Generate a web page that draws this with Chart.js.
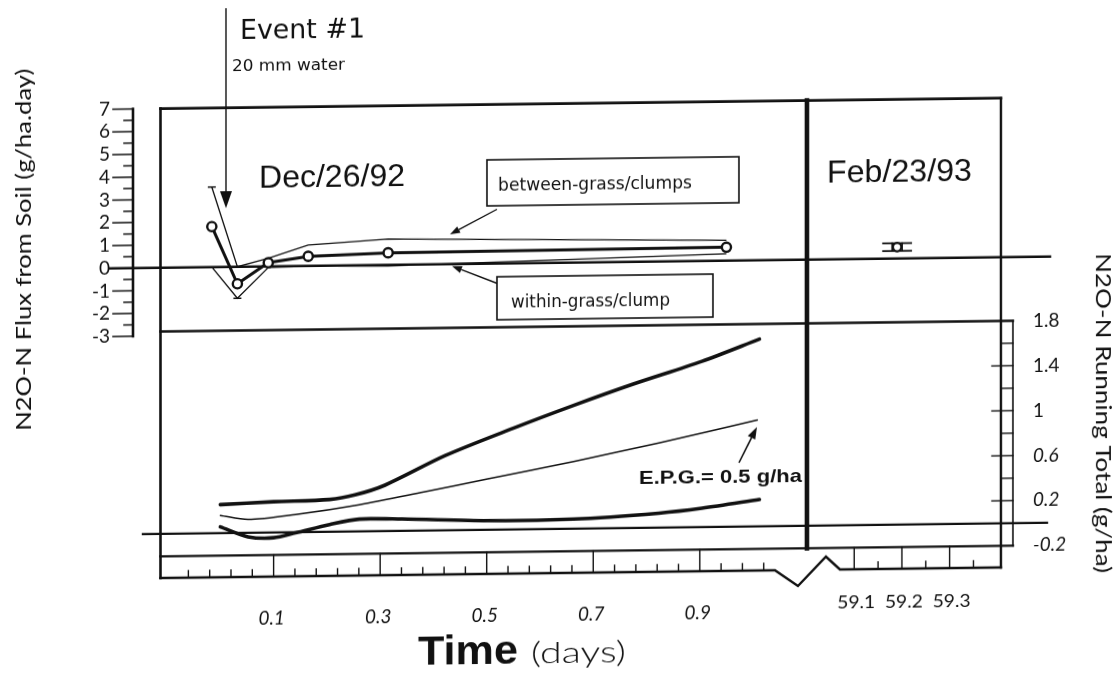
<!DOCTYPE html>
<html>
<head>
<meta charset="utf-8">
<script src="https://cdn.jsdelivr.net/npm/chart.js@4.4.1/dist/chart.umd.min.js"></script>
<style>
  html, body { margin: 0; padding: 0; background: #fff; overflow: hidden; }
  #sheet { width: 1119px; height: 688px; transform: skewY(-0.72deg); transform-origin: 559.5px 344px; }
  canvas { display: block; }
</style>
</head>
<body>
<div id="sheet"><canvas id="chart" width="1119" height="688"></canvas></div>
<script>
// N2O-N flux from soil after a 20 mm watering (Dec/26/92), with a later check (Feb/23/93),
// and the running total of emitted N2O-N over the first day.

// --- flux panel (g/ha.day) ---
const decTimes    = [-0.016, 0.032, 0.090, 0.165, 0.315, 0.950];
const meanFlux    = [1.78, -0.75, 0.16, 0.42, 0.53, 0.59];
const betweenFlux = [3.52, 0.00, 0.35, 0.92, 1.14, 0.89];
const withinFlux  = [0.00, -1.39, -0.05, -0.02, -0.05, 0.30];

const febTimes   = [59.19];
const febFlux    = [0.50];
const febFluxErr = [0.17];

// --- running total panel (g/ha) ---
const upperTimes = [0.000, 0.100, 0.205, 0.253, 0.309, 0.422, 0.550, 0.663, 0.775, 0.904, 1.012];
const upperTotal = [0.253, 0.273, 0.287, 0.325, 0.408, 0.664, 0.900, 1.096, 1.279, 1.474, 1.665];
const epgTimes   = [0.000, 0.052, 0.141, 0.261, 0.382, 0.502, 0.663, 0.823, 1.008];
const epgTotal   = [0.157, 0.118, 0.157, 0.237, 0.343, 0.452, 0.597, 0.753, 0.945];
const lowerTimes = [0.000, 0.052, 0.100, 0.141, 0.205, 0.261, 0.341, 0.502, 0.663, 0.823, 0.904, 1.012];
const lowerTotal = [0.055, -0.036, -0.047, -0.006, 0.064, 0.109, 0.105, 0.081, 0.085, 0.128, 0.167, 0.239];

// --- tick labels ---
const fluxTicks     = [7, 6, 5, 4, 3, 2, 1, 0, -1, -2, -3];
const totalTicks    = [1.8, 1.4, 1, 0.6, 0.2, -0.2];
const decTickLabels = [0.1, 0.3, 0.5, 0.7, 0.9];
const febTickLabels = [59.1, 59.2, 59.3];

const W = 1119, H = 688;
const INK = '#111';
const NUM_FONT = 'Lato, "Noto Sans", sans-serif';
const HAND_FONT = '"DejaVu Sans", sans-serif';
const HELV = '"Liberation Sans", Arial, sans-serif';

// Scale limits chosen so that an anchor value lands on a given pixel with a given density.
function axisRange(anchorValue, anchorPx, pxPerUnit, size, inverted) {
  if (inverted) {
    const max = anchorValue + anchorPx / pxPerUnit;
    return { min: max - size / pxPerUnit, max };
  }
  const min = anchorValue - anchorPx / pxPerUnit;
  return { min, max: min + size / pxPerUnit };
}

const pts = (xs, ys) => xs.map((x, i) => ({ x, y: ys[i] }));

function strokePath(ctx, points, width) {
  ctx.beginPath();
  ctx.moveTo(points[0][0], points[0][1]);
  for (let i = 1; i < points.length; i++) ctx.lineTo(points[i][0], points[i][1]);
  ctx.lineWidth = width;
  ctx.stroke();
}

function drawText(ctx, str, x, y, o) {
  ctx.save();
  ctx.translate(x, y);
  if (o.rotate) ctx.rotate(o.rotate);
  ctx.font = o.font;
  ctx.fillStyle = INK;
  ctx.textBaseline = o.baseline || 'alphabetic';
  ctx.textAlign = o.align || 'left';
  if (o.width) {
    const w = ctx.measureText(str).width;
    ctx.scale(o.width / w, 1);
  }
  ctx.fillText(str, 0, 0);
  ctx.restore();
}

function arrow(ctx, x1, y1, x2, y2, headLen, headHalf, lw) {
  const a = Math.atan2(y2 - y1, x2 - x1);
  const bx = x2 - Math.cos(a) * headLen, by = y2 - Math.sin(a) * headLen;
  strokePath(ctx, [[x1, y1], [bx, by]], lw);
  ctx.beginPath();
  ctx.moveTo(x2, y2);
  ctx.lineTo(bx + Math.sin(a) * headHalf, by - Math.cos(a) * headHalf);
  ctx.lineTo(bx - Math.sin(a) * headHalf, by + Math.cos(a) * headHalf);
  ctx.closePath();
  ctx.fill();
}

const fmt = v => String(v);

const paperFrame = {
  id: 'paperFrame',
  beforeDatasetsDraw(chart) {
    const { ctx, scales: s } = chart;
    const X = v => s.x.getPixelForValue(v);
    const XF = v => s.xFeb.getPixelForValue(v);
    const YF = v => s.yFlux.getPixelForValue(v);
    const YT = v => s.yTotal.getPixelForValue(v);

    const left = 160.5, right = 1001, divider = 807, column = 1013;
    const top = YF(7), sep = YT(1.8), bottom = YT(-0.2), stripBottom = 573;

    ctx.save();
    ctx.strokeStyle = INK;
    ctx.fillStyle = INK;
    ctx.lineCap = 'square';

    // outer frame and panel rules
    strokePath(ctx, [[left, top], [right, top]], 2.6);
    strokePath(ctx, [[left, top], [left, stripBottom]], 2.6);
    strokePath(ctx, [[right, top], [right, stripBottom]], 2.4);
    strokePath(ctx, [[left, sep], [column, sep]], 2.4);
    strokePath(ctx, [[left, bottom], [column, bottom]], 2.4);
    strokePath(ctx, [[column, sep], [column, bottom]], 1.6);
    strokePath(ctx, [[divider, top], [divider, bottom]], 4.6);

    // time strip with broken-axis mark
    ctx.lineJoin = 'miter';
    strokePath(ctx, [[left, stripBottom], [775, stripBottom], [798, 589], [826, 560], [840, stripBottom], [right, stripBottom]], 2.4);

    // zero lines
    strokePath(ctx, [[110, YF(0)], [1050, YF(0)]], 2.6);
    strokePath(ctx, [[143, YT(0)], [1047, YT(0)]], 2.4);

    // flux axis with ticks
    strokePath(ctx, [[133, YF(7)], [133, YF(-3)]], 2.6);
    for (let k = 0; k <= 20; k++) {
      const v = -3 + k * 0.5;
      const major = Number.isInteger(v);
      strokePath(ctx, [[major ? 113 : 124, YF(v)], [133, YF(v)]], 1.5);
    }

    // running-total ruler
    for (let k = 1; k < 10; k++) {
      const v = -0.2 + k * 0.2;
      if (Math.abs(v) < 1e-9) continue;
      const r = Math.round((v - 0.2) / 0.4 * 1000) / 1000;
      const major = Number.isInteger(r) && v > 0.1 && v < 1.5;
      strokePath(ctx, [[major ? 992 : right, YT(v)], [column, YT(v)]], 1.4);
    }

    // time ticks, first day
    for (let k = 1; k <= 28; k++) {
      const t = -0.1 + k * 0.04;
      const q = (t - 0.1) / 0.2;
      const major = Math.abs(q - Math.round(q)) < 1e-6;
      strokePath(ctx, [[X(t), major ? bottom : stripBottom - 7], [X(t), stripBottom]], 1.4);
    }
    // time ticks, day 59
    for (let k = 0; k < 6; k++) {
      const t = 59.1 + k * 0.05;
      const major = k % 2 === 0;
      strokePath(ctx, [[XF(t), major ? bottom : stripBottom - 7], [XF(t), stripBottom]], 1.4);
    }

    // error caps on the Feb reading
    febTimes.forEach((t, i) => {
      const cx = XF(t);
      const hi = YF(febFlux[i] + febFluxErr[i]), lo = YF(febFlux[i] - febFluxErr[i]);
      strokePath(ctx, [[cx - 14, hi], [cx + 14, hi]], 1.8);
      strokePath(ctx, [[cx - 14, lo], [cx + 14, lo]], 1.8);
      strokePath(ctx, [[cx - 5, hi], [cx - 5, lo]], 1.6);
      strokePath(ctx, [[cx + 5, hi], [cx + 5, lo]], 1.6);
    });
    ctx.restore();
  },

  afterDatasetsDraw(chart) {
    const { ctx, scales: s } = chart;
    const X = v => s.x.getPixelForValue(v);
    const XF = v => s.xFeb.getPixelForValue(v);
    const YF = v => s.yFlux.getPixelForValue(v);
    const YT = v => s.yTotal.getPixelForValue(v);
    ctx.save();
    ctx.strokeStyle = INK;
    ctx.fillStyle = INK;

    // axis numbers
    fluxTicks.forEach(v => drawText(ctx, fmt(v), 110, YF(v), { font: `19px ${NUM_FONT}`, align: 'right', baseline: 'middle' }));
    totalTicks.forEach(v => {
      const italic = v < 1 ? 'italic ' : '';
      drawText(ctx, fmt(v), 1033, YT(v), { font: `${italic}19px ${NUM_FONT}`, baseline: 'middle' });
    });
    decTickLabels.forEach(v => drawText(ctx, fmt(v), X(v) - 2, 615, { font: `italic 19px ${NUM_FONT}`, align: 'center', baseline: 'middle' }));
    febTickLabels.forEach(v => drawText(ctx, fmt(v), XF(v) + 2, 606, { font: `18px ${NUM_FONT}`, align: 'center', baseline: 'middle', width: 38 }));

    // axis titles
    drawText(ctx, 'N2O-N Flux from Soil (g/ha.day)', 24, 243, { font: `21px ${NUM_FONT}`, align: 'center', baseline: 'middle', rotate: -Math.PI / 2, width: 362 });
    drawText(ctx, 'N2O-N Running Total (g/ha)', 1103, 420, { font: `21px ${NUM_FONT}`, align: 'center', baseline: 'middle', rotate: Math.PI / 2, width: 320 });
    drawText(ctx, 'Time', 418, 663, { font: `bold 40px ${HELV}`, width: 100 });
    drawText(ctx, '(days)', 531, 663, { font: `300 30px ${NUM_FONT}`, width: 95 });

    // panel dates
    drawText(ctx, 'Dec/26/92', 259, 183.5, { font: `32px ${HELV}`, width: 146 });
    drawText(ctx, 'Feb/23/93', 827, 186, { font: `32px ${HELV}`, width: 145 });

    // watering event
    arrow(ctx, 226, 4, 226, 204, 17, 6, 1.4);
    drawText(ctx, 'Event #1', 240, 34.5, { font: `27px ${HAND_FONT}`, width: 125 });
    drawText(ctx, '20 mm water', 232, 67, { font: `16px ${HAND_FONT}`, width: 113 });

    // series call-outs
    ctx.lineWidth = 1.6;
    ctx.strokeRect(487, 159, 252, 46);
    drawText(ctx, 'between-grass/clumps', 498, 190, { font: `17px ${HAND_FONT}`, width: 194 });
    arrow(ctx, 497, 208.5, 450, 233, 10, 3.6, 1.4);

    ctx.lineWidth = 1.6;
    ctx.strokeRect(497, 276, 216, 43);
    drawText(ctx, 'within-grass/clump', 511, 306.5, { font: `17px ${HAND_FONT}`, width: 159 });
    arrow(ctx, 497, 282.5, 452, 264.7, 10, 3.6, 1.4);

    drawText(ctx, 'E.P.G.= 0.5 g/ha', 639, 485.3, { font: `bold 19px ${HELV}`, width: 163 });
    arrow(ctx, 739, 465, 757, 429.5, 12, 4.2, 1.6);

    ctx.restore();
  }
};

const xr = axisRange(0, 216.05, 539.5, W, false);
const xfr = axisRange(59.0, 809.7, 483, W, false);
const yfr = axisRange(0, 261, 23.2, H, true);
const ytr = axisRange(0, 532.7, 114.8, H, true);

const fluxLine = (data, width, extra) => Object.assign({
  data, xAxisID: 'x', yAxisID: 'yFlux', borderColor: INK, borderWidth: width,
  pointRadius: 0, tension: 0, fill: false
}, extra || {});

const totalLine = (data, width) => ({
  data, xAxisID: 'x', yAxisID: 'yTotal', borderColor: INK, borderWidth: width,
  pointRadius: 0, tension: 0.3, fill: false, borderCapStyle: 'round'
});

new Chart(document.getElementById('chart'), {
  type: 'line',
  data: {
    datasets: [
      fluxLine(pts(decTimes, meanFlux), 3, {
        pointRadius: 4.6, pointBorderWidth: 2.4, pointBackgroundColor: '#fff', pointBorderColor: INK
      }),
      {
        data: pts(febTimes, febFlux), xAxisID: 'xFeb', yAxisID: 'yFlux', showLine: false,
        pointRadius: 4.2, pointBorderWidth: 2.2, pointBackgroundColor: '#fff', pointBorderColor: INK
      },
      fluxLine(pts(decTimes, betweenFlux), 1.3, {
        pointStyle: 'line', pointRadius: [4, 0, 0, 0, 0, 0], pointBorderWidth: 1.5, pointBorderColor: INK
      }),
      fluxLine(pts(decTimes, withinFlux), 1.3, {
        pointStyle: 'line', pointRadius: [0, 4, 0, 0, 0, 0], pointBorderWidth: 1.5, pointBorderColor: INK
      }),
      totalLine(pts(upperTimes, upperTotal), 3.6),
      totalLine(pts(epgTimes, epgTotal), 1.5),
      totalLine(pts(lowerTimes, lowerTotal), 3.6)
    ]
  },
  options: {
    responsive: false,
    animation: false,
    events: [],
    layout: { padding: 0 },
    plugins: { legend: { display: false }, tooltip: { enabled: false }, title: { display: false } },
    scales: {
      x:      { type: 'linear', display: false, min: xr.min,  max: xr.max },
      xFeb:   { type: 'linear', display: false, min: xfr.min, max: xfr.max },
      yFlux:  { type: 'linear', display: false, min: yfr.min, max: yfr.max },
      yTotal: { type: 'linear', display: false, min: ytr.min, max: ytr.max }
    }
  },
  plugins: [paperFrame]
});
</script>
</body>
</html>
